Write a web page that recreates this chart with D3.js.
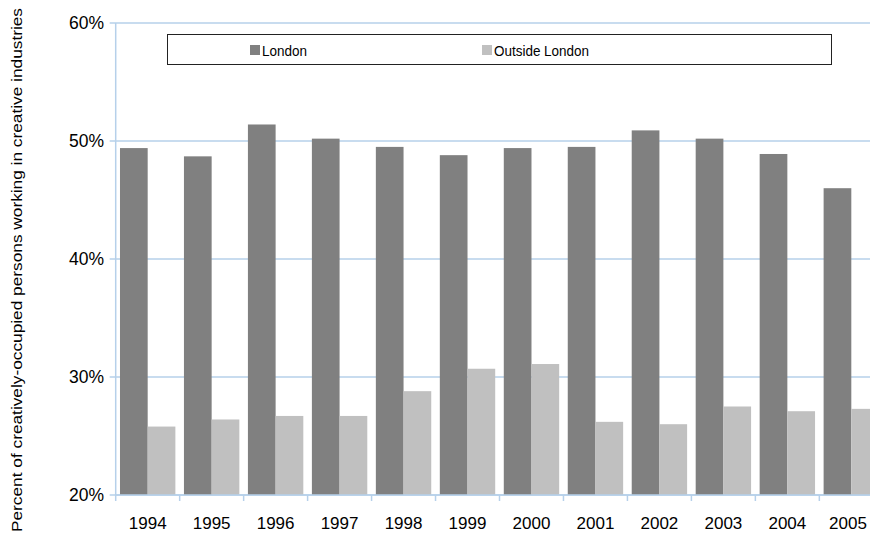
<!DOCTYPE html>
<html>
<head>
<meta charset="utf-8">
<script src="https://cdn.jsdelivr.net/npm/d3@7"></script>
<style>
  body { margin: 0; background: #fff; }
  svg { display: block; font-family: "Liberation Sans", Arial, sans-serif; }
</style>
</head>
<body>
<svg width="870" height="542"></svg>
<script>
var years = ["1994", "1995", "1996", "1997", "1998", "1999", "2000", "2001", "2002", "2003", "2004", "2005"];
var series = ["London", "Outside London"];
var london = [49.4, 48.7, 51.4, 50.2, 49.5, 48.8, 49.4, 49.5, 50.9, 50.2, 48.9, 46.0];
var outside = [25.8, 26.4, 26.7, 26.7, 28.8, 30.7, 31.1, 26.2, 26.0, 27.5, 27.1, 27.3];
var yTicks = [20, 30, 40, 50, 60];
var colors = ["#808080", "#c0c0c0"];

var svg = d3.select("svg"),
    width = +svg.attr("width"),
    gridColor = "#b6d0ea";

// plot runs off the right edge, like the original
var x0 = d3.scaleBand().domain(years).range([115.7, 883.3]).padding(0);
var pad = x0.bandwidth() * 0.067;
var x1 = d3.scaleBand().domain(series).range([pad, x0.bandwidth() - pad]).padding(0);
var y = d3.scaleLinear().domain([20, 60]).range([495, 23]);
var color = d3.scaleOrdinal().domain(series).range(colors);

// gridlines
svg.append("g")
    .selectAll("line")
    .data(yTicks)
    .enter().append("line")
    .attr("x1", x0.range()[0] - 6)
    .attr("x2", width)
    .attr("y1", function(d) { return y(d); })
    .attr("y2", function(d) { return y(d); })
    .attr("stroke", gridColor)
    .attr("stroke-width", 1.5);

// y axis line
svg.append("line")
    .attr("x1", x0.range()[0]).attr("x2", x0.range()[0])
    .attr("y1", y(60)).attr("y2", y(20))
    .attr("stroke", gridColor)
    .attr("stroke-width", 1.5);

// bars
var rows = years.map(function(yr, i) {
    return { year: yr, values: [ { key: series[0], v: london[i] }, { key: series[1], v: outside[i] } ] };
});

svg.append("g")
    .selectAll("g")
    .data(rows)
    .enter().append("g")
    .attr("transform", function(d) { return "translate(" + x0(d.year) + ",0)"; })
    .selectAll("rect")
    .data(function(d) { return d.values; })
    .enter().append("rect")
    .attr("x", function(d) { return x1(d.key); })
    .attr("width", x1.bandwidth())
    .attr("y", function(d) { return y(d.v); })
    .attr("height", function(d) { return y(20) - y(d.v); })
    .attr("fill", function(d) { return color(d.key); });

// x axis
var xAxis = svg.append("g")
    .attr("transform", "translate(0," + y(20) + ")");
xAxis.append("line")
    .attr("x1", x0.range()[0]).attr("x2", width)
    .attr("stroke", gridColor).attr("stroke-width", 1.5);
xAxis.selectAll(".tk")
    .data(years.concat(["end"]))
    .enter().append("line")
    .attr("class", "tk")
    .attr("x1", function(d, i) { return x0.range()[0] + i * x0.step(); })
    .attr("x2", function(d, i) { return x0.range()[0] + i * x0.step(); })
    .attr("y1", 0).attr("y2", 6)
    .attr("stroke", gridColor).attr("stroke-width", 1.5);
xAxis.selectAll("text")
    .data(years)
    .enter().append("text")
    .attr("x", function(d) { return Math.min(x0(d) + x0.bandwidth() / 2, width - 22); })
    .attr("y", 34)
    .attr("text-anchor", "middle")
    .attr("font-size", 17)
    .attr("fill", "#000")
    .text(function(d) { return d; });

// y labels
svg.append("g")
    .selectAll("text")
    .data(yTicks)
    .enter().append("text")
    .attr("x", 104)
    .attr("y", function(d) { return y(d) + 6; })
    .attr("text-anchor", "end")
    .attr("font-size", 17.5)
    .attr("fill", "#000")
    .text(function(d) { return d + "%"; });

// y title
svg.append("text")
    .attr("transform", "translate(22,270) rotate(-90)")
    .attr("text-anchor", "middle")
    .attr("font-size", 15.5)
    .attr("textLength", 524)
    .attr("lengthAdjust", "spacingAndGlyphs")
    .attr("fill", "#000")
    .text("Percent of creatively-occupied persons working in creative industries");

// legend
var legend = svg.append("g");
legend.append("rect")
    .attr("x", 167.5).attr("y", 34.5)
    .attr("width", 664).attr("height", 30)
    .attr("fill", "#fff")
    .attr("stroke", "#222")
    .attr("stroke-width", 1);

var legendX = [250, 482];
var legendW = [45, 95];
var item = legend.selectAll(".item")
    .data(series)
    .enter().append("g")
    .attr("class", "item")
    .attr("transform", function(d, i) { return "translate(" + legendX[i] + ",45)"; });
item.append("rect")
    .attr("width", 10).attr("height", 10)
    .attr("fill", function(d) { return color(d); });
item.append("text")
    .attr("x", 12).attr("y", 10.5)
    .attr("font-size", 15.5)
    .attr("textLength", function(d, i) { return legendW[i]; })
    .attr("lengthAdjust", "spacingAndGlyphs")
    .attr("fill", "#000")
    .text(function(d) { return d; });
</script>
</body>
</html>
